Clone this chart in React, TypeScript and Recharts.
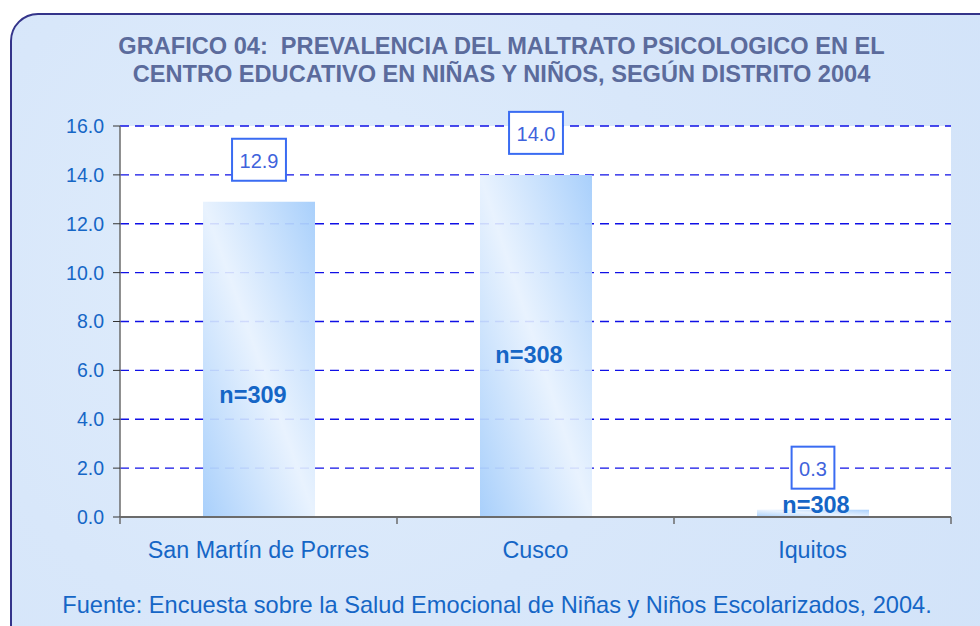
import { BarChart, Bar, XAxis, YAxis, CartesianGrid, LabelList } from 'recharts';

const distritos = ['San Martín de Porres', 'Cusco', 'Iquitos'];
const prevalencia = [12.9, 14.0, 0.3];
const muestra = ['n=309', 'n=308', 'n=308'];
const yTicks = [0, 2, 4, 6, 8, 10, 12, 14, 16];

const data = distritos.map((d, i) => ({ distrito: d, valor: prevalencia[i], n: muestra[i] }));

const W = 980;
const H = 626;
const M = { top: 126, right: 29, bottom: 64, left: 60 };
const Y_W = 60;
const X_H = 45;
const PLOT_W = W - M.left - M.right - Y_W;
const BAND = PLOT_W / distritos.length;

const BLUE_TEXT = '#1566c6';
const FONT = 'Arial, "Liberation Sans", sans-serif';

// where the n= label sits, in px above the bar bottom, plus a small x nudge
const nLift = [122, 162, 12];
const nDx = [-6, -7, 3];

const XTick = (props: any) => {
  const { x, y, payload, index } = props;
  const left = x - BAND / 2;
  return (
    <g>
      <line x1={left} x2={left} y1={517} y2={524} stroke="#6b6b6b" strokeWidth={1.5} />
      {index === distritos.length - 1 && (
        <line x1={x + BAND / 2} x2={x + BAND / 2} y1={517} y2={524} stroke="#6b6b6b" strokeWidth={1.5} />
      )}
      <text x={x} y={y + 33} textAnchor="middle" fill={BLUE_TEXT} fontSize={23.3} fontFamily={FONT}>
        {payload.value}
      </text>
    </g>
  );
};

const ValueBox = (props: any) => {
  const { x, y, width, value } = props;
  const label = Number(value).toFixed(1);
  const tw = (label.length - 1) * 11.1 + 5.6 + 15;
  const cx = x + width / 2;
  const cy = y - 42;
  return (
    <g>
      <rect x={cx - tw / 2} y={cy - 21} width={tw} height={42} fill="#fff" stroke="#3a6cf2" strokeWidth={2} />
      <text x={cx} y={cy + 1} textAnchor="middle" dominantBaseline="central" fill="#3f63dc" fontSize={20} fontFamily={FONT}>
        {label}
      </text>
    </g>
  );
};

const NLabel = (props: any) => {
  const { x, y, width, height, value, index } = props;
  const bottom = y + height;
  return (
    <text
      x={x + width / 2 + nDx[index]}
      y={bottom - nLift[index]}
      textAnchor="middle"
      dominantBaseline="central"
      fill={BLUE_TEXT}
      fontSize={23.5}
      fontWeight="bold"
      fontFamily={FONT}
    >
      {value}
    </text>
  );
};

export default function App() {
  return (
    <div style={{ position: 'absolute', left: 0, top: 0, width: W, height: H, overflow: 'hidden', background: '#fff' }}>
      <div
        style={{
          position: 'absolute',
          left: 10,
          top: 13,
          width: 1000,
          height: 660,
          borderRadius: 28,
          border: '2px solid #34348a',
          background: 'radial-gradient(circle at 30% 40%, #e0edfc 0%, #d8e7fa 45%, #d2e3f9 100%)',
          boxSizing: 'border-box',
        }}
      />
      <div
        style={{
          position: 'absolute',
          left: 0,
          width: 1003,
          top: 32,
          textAlign: 'center',
          fontFamily: FONT,
          fontWeight: 'bold',
          fontSize: 23.6,
          lineHeight: '28px',
          color: '#5b6b9c',
          whiteSpace: 'pre',
        }}
      >
        {'GRAFICO 04:  PREVALENCIA DEL MALTRATO PSICOLOGICO EN EL\nCENTRO EDUCATIVO EN NIÑAS Y NIÑOS, SEGÚN DISTRITO 2004'}
      </div>
      <div style={{ position: 'absolute', left: 0, top: 0 }}>
        <BarChart width={W} height={H} data={data} margin={M} barCategoryGap="30%">
          <defs>
            <linearGradient id="barFill" x1="1" y1="0" x2="0" y2="1">
              <stop offset="0%" stopColor="#a4cdfb" stopOpacity={0.95} />
              <stop offset="50%" stopColor="#e6f1fe" stopOpacity={0.9} />
              <stop offset="100%" stopColor="#a4cdfb" stopOpacity={0.95} />
            </linearGradient>
          </defs>
          <CartesianGrid vertical={false} fill="#ffffff" stroke="#1010e6" strokeDasharray="9 6" strokeWidth={1.4} />
          <XAxis
            dataKey="distrito"
            height={X_H}
            tickLine={false}
            axisLine={{ stroke: '#6b6b6b', strokeWidth: 2 }}
            tick={<XTick />}
            interval={0}
          />
          <YAxis
            width={Y_W}
            domain={[0, 16]}
            ticks={yTicks}
            interval={0}
            tickFormatter={(v: number) => v.toFixed(1)}
            tickSize={7}
            tickMargin={9}
            axisLine={{ stroke: '#6b6b6b', strokeWidth: 1.5 }}
            tickLine={{ stroke: '#333' }}
            tick={{ fill: BLUE_TEXT, fontSize: 19.5, fontFamily: FONT }}
          />
          <Bar dataKey="valor" fill="url(#barFill)" barSize={112} isAnimationActive={false}>
            <LabelList dataKey="valor" content={<ValueBox />} />
            <LabelList dataKey="n" content={<NLabel />} />
          </Bar>
        </BarChart>
      </div>
      <div
        style={{
          position: 'absolute',
          left: 0,
          width: 994,
          top: 592,
          textAlign: 'center',
          fontFamily: FONT,
          fontSize: 23.6,
          color: BLUE_TEXT,
        }}
      >
        Fuente: Encuesta sobre la Salud Emocional de Niñas y Niños Escolarizados, 2004.
      </div>
    </div>
  );
}
